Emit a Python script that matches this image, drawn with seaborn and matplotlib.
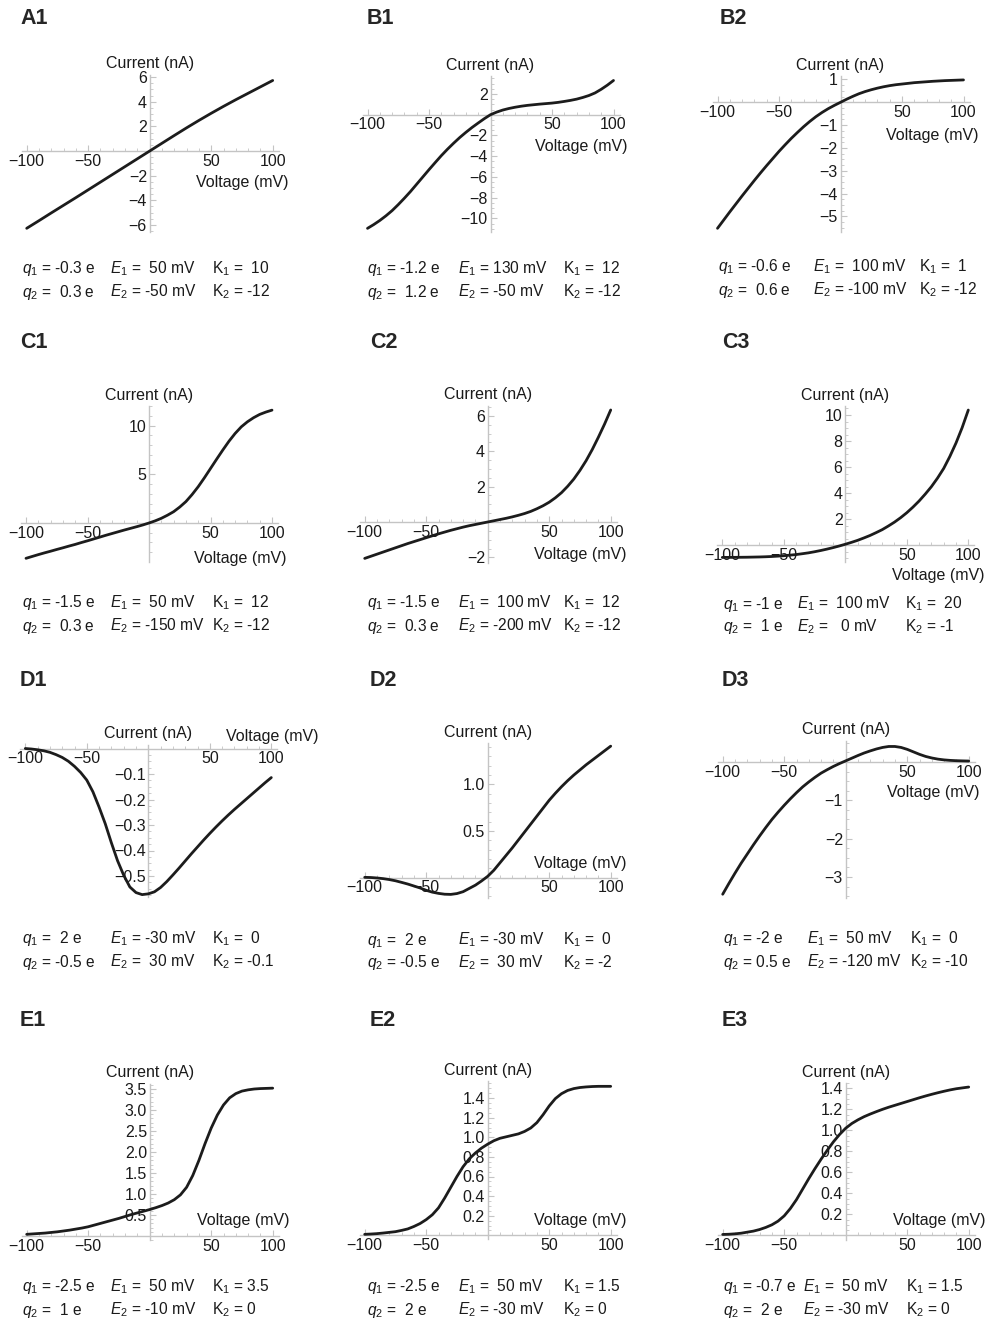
import matplotlib
matplotlib.use('Agg')
import matplotlib.pyplot as plt
import seaborn as sns
from matplotlib.ticker import FixedLocator, FixedFormatter, MultipleLocator

# voltage grids (mV)
volt_10 = list(range(-100, 101, 10))
volt_5 = list(range(-100, 101, 5))

# currents (nA)
a1_current = [-6.27, -5.65, -5.02, -4.40, -3.78, -3.15, -2.52, -1.89, -1.26, -0.63, 0.0,
              0.63, 1.26, 1.88, 2.48, 3.06, 3.62, 4.16, 4.68, 5.20, 5.72]
b1_current = [-10.96, -10.6, -10.2, -9.75, -9.25, -8.67, -8.05, -7.4, -6.7, -6.0,
              -5.3, -4.62, -3.95, -3.33, -2.75, -2.2, -1.7, -1.23, -0.8, -0.38,
              0.0, 0.25, 0.45, 0.6, 0.72, 0.82, 0.9, 0.96, 1.02, 1.07,
              1.12, 1.19, 1.28, 1.38, 1.5, 1.66, 1.85, 2.1, 2.45, 2.85, 3.3]
b2_current = [-5.52, -5.16, -4.8, -4.45, -4.1, -3.76, -3.42, -3.09, -2.77, -2.46,
              -2.15, -1.86, -1.58, -1.32, -1.07, -0.84, -0.63, -0.445, -0.28, -0.135,
              0.0, 0.135, 0.26, 0.375, 0.47, 0.55, 0.62, 0.68, 0.73, 0.77,
              0.8, 0.83, 0.86, 0.88, 0.9, 0.92, 0.935, 0.95, 0.96, 0.97, 0.98]
c1_current = [-3.63, -3.44, -3.25, -3.07, -2.9, -2.72, -2.55, -2.37, -2.2, -2.01,
              -1.83, -1.64, -1.45, -1.26, -1.08, -0.9, -0.72, -0.55, -0.38, -0.2,
              0.0, 0.22, 0.48, 0.8, 1.16, 1.64, 2.2, 2.92, 3.73, 4.64,
              5.6, 6.56, 7.5, 8.4, 9.2, 9.88, 10.4, 10.82, 11.16, 11.4, 11.6]
c2_current = [-2.06, -1.94, -1.82, -1.7, -1.58, -1.46, -1.34, -1.22, -1.11, -1.0,
              -0.89, -0.78, -0.67, -0.57, -0.47, -0.38, -0.29, -0.21, -0.14, -0.07,
              0.0, 0.07, 0.14, 0.21, 0.29, 0.38, 0.48, 0.6, 0.75, 0.92,
              1.12, 1.37, 1.66, 2.02, 2.43, 2.92, 3.47, 4.1, 4.8, 5.54, 6.34]
c3_current = [-0.93, -0.928, -0.925, -0.92, -0.915, -0.905, -0.895, -0.88, -0.86, -0.832,
              -0.8, -0.757, -0.71, -0.647, -0.58, -0.495, -0.4, -0.295, -0.18, -0.055,
              0.08, 0.225, 0.38, 0.56, 0.75, 0.97, 1.2, 1.48, 1.78, 2.12,
              2.5, 2.93, 3.4, 3.93, 4.5, 5.16, 5.9, 6.82, 7.85, 9.03, 10.38]
d1_current = [0.0, -0.002, -0.005, -0.009, -0.015, -0.024, -0.035, -0.05, -0.07, -0.094,
              -0.124, -0.17, -0.23, -0.295, -0.37, -0.44, -0.497, -0.543, -0.565, -0.573,
              -0.57, -0.562, -0.545, -0.522, -0.496, -0.469, -0.441, -0.413, -0.386, -0.359,
              -0.333, -0.308, -0.284, -0.261, -0.239, -0.218, -0.197, -0.176, -0.155, -0.134, -0.114]
d2_current = [0.004, 0.002, -0.003, -0.01, -0.02, -0.033, -0.05, -0.068, -0.089, -0.11,
              -0.135, -0.155, -0.168, -0.177, -0.179, -0.17, -0.15, -0.115, -0.08, -0.035,
              0.015, 0.08, 0.16, 0.24, 0.32, 0.405, 0.49, 0.575, 0.66, 0.745,
              0.83, 0.905, 0.975, 1.04, 1.10, 1.155, 1.21, 1.26, 1.31, 1.36, 1.41]
d3_current = [-3.45, -3.17, -2.90, -2.64, -2.40, -2.16, -1.93, -1.71, -1.50, -1.31,
              -1.13, -0.96, -0.80, -0.65, -0.52, -0.40, -0.29, -0.20, -0.115, -0.04,
              0.03, 0.10, 0.17, 0.235, 0.29, 0.34, 0.38, 0.405, 0.405, 0.38,
              0.33, 0.265, 0.20, 0.145, 0.105, 0.075, 0.055, 0.042, 0.034, 0.029, 0.025]
e1_current = [0.04, 0.05, 0.06, 0.07, 0.085, 0.10, 0.12, 0.14, 0.165, 0.19,
              0.22, 0.26, 0.30, 0.34, 0.38, 0.42, 0.465, 0.51, 0.55, 0.59,
              0.63, 0.675, 0.725, 0.785, 0.865, 0.98, 1.16, 1.44, 1.80, 2.20,
              2.57, 2.88, 3.12, 3.29, 3.39, 3.45, 3.48, 3.50, 3.51, 3.515, 3.52]
e2_current = [0.01, 0.013, 0.017, 0.023, 0.03, 0.037, 0.05, 0.065, 0.09, 0.12,
              0.16, 0.21, 0.28, 0.38, 0.49, 0.60, 0.70, 0.78, 0.84, 0.89,
              0.93, 0.965, 0.99, 1.005, 1.02, 1.035, 1.06, 1.095, 1.15, 1.23,
              1.32, 1.395, 1.445, 1.478, 1.497, 1.508, 1.514, 1.518, 1.52, 1.52, 1.52]
e3_current = [0.008, 0.01, 0.014, 0.02, 0.03, 0.04, 0.055, 0.075, 0.10, 0.135,
              0.185, 0.255, 0.34, 0.44, 0.54, 0.635, 0.725, 0.81, 0.89, 0.96,
              1.02, 1.065, 1.10, 1.13, 1.155, 1.178, 1.20, 1.22, 1.238, 1.256,
              1.274, 1.292, 1.31, 1.327, 1.343, 1.358, 1.372, 1.385, 1.396, 1.404, 1.412]

# tick values and labels
x_ticks = [-100, -50, 50, 100]
x_ticklabels = ['\u2212100', '\u221250', '50', '100']
a1_yticks = [-6, -4, -2, 2, 4, 6]
a1_ylabels = ['\u22126', '\u22124', '\u22122', '2', '4', '6']
b1_yticks = [-10, -8, -6, -4, -2, 2]
b1_ylabels = ['\u221210', '\u22128', '\u22126', '\u22124', '\u22122', '2']
b2_yticks = [-5, -4, -3, -2, -1, 1]
b2_ylabels = ['\u22125', '\u22124', '\u22123', '\u22122', '\u22121', '1']
c1_yticks = [5, 10]
c1_ylabels = ['5', '10']
c2_yticks = [-2, 2, 4, 6]
c2_ylabels = ['\u22122', '2', '4', '6']
c3_yticks = [2, 4, 6, 8, 10]
c3_ylabels = ['2', '4', '6', '8', '10']
d1_yticks = [-0.5, -0.4, -0.3, -0.2, -0.1]
d1_ylabels = ['\u22120.5', '\u22120.4', '\u22120.3', '\u22120.2', '\u22120.1']
d2_yticks = [0.5, 1.0]
d2_ylabels = ['0.5', '1.0']
d3_yticks = [-3, -2, -1]
d3_ylabels = ['\u22123', '\u22122', '\u22121']
e1_yticks = [0.5, 1.0, 1.5, 2.0, 2.5, 3.0, 3.5]
e1_ylabels = ['0.5', '1.0', '1.5', '2.0', '2.5', '3.0', '3.5']
e2_yticks = [0.2, 0.4, 0.6, 0.8, 1.0, 1.2, 1.4]
e2_ylabels = ['0.2', '0.4', '0.6', '0.8', '1.0', '1.2', '1.4']

# parameter text under each panel (two lines, three columns)
a1_text = [['$q_\\mathrm{1}$ = -0.3 e', '$E_\\mathrm{1}$ =  50 mV', 'K$_\\mathrm{1}$ =  10'],
           ['$q_\\mathrm{2}$ =  0.3 e', '$E_\\mathrm{2}$ = -50 mV', 'K$_\\mathrm{2}$ = -12']]
b1_text = [['$q_\\mathrm{1}$ = -1.2 e', '$E_\\mathrm{1}$ = 130 mV', 'K$_\\mathrm{1}$ =  12'],
           ['$q_\\mathrm{2}$ =  1.2 e', '$E_\\mathrm{2}$ = -50 mV', 'K$_\\mathrm{2}$ = -12']]
b2_text = [['$q_\\mathrm{1}$ = -0.6 e', '$E_\\mathrm{1}$ =  100 mV', 'K$_\\mathrm{1}$ =  1'],
           ['$q_\\mathrm{2}$ =  0.6 e', '$E_\\mathrm{2}$ = -100 mV', 'K$_\\mathrm{2}$ = -12']]
c1_text = [['$q_\\mathrm{1}$ = -1.5 e', '$E_\\mathrm{1}$ =  50 mV', 'K$_\\mathrm{1}$ =  12'],
           ['$q_\\mathrm{2}$ =  0.3 e', '$E_\\mathrm{2}$ = -150 mV', 'K$_\\mathrm{2}$ = -12']]
c2_text = [['$q_\\mathrm{1}$ = -1.5 e', '$E_\\mathrm{1}$ =  100 mV', 'K$_\\mathrm{1}$ =  12'],
           ['$q_\\mathrm{2}$ =  0.3 e', '$E_\\mathrm{2}$ = -200 mV', 'K$_\\mathrm{2}$ = -12']]
c3_text = [['$q_\\mathrm{1}$ = -1 e', '$E_\\mathrm{1}$ =  100 mV', 'K$_\\mathrm{1}$ =  20'],
           ['$q_\\mathrm{2}$ =  1 e', '$E_\\mathrm{2}$ =   0 mV', 'K$_\\mathrm{2}$ = -1']]
d1_text = [['$q_\\mathrm{1}$ =  2 e', '$E_\\mathrm{1}$ = -30 mV', 'K$_\\mathrm{1}$ =  0'],
           ['$q_\\mathrm{2}$ = -0.5 e', '$E_\\mathrm{2}$ =  30 mV', 'K$_\\mathrm{2}$ = -0.1']]
d2_text = [['$q_\\mathrm{1}$ =  2 e', '$E_\\mathrm{1}$ = -30 mV', 'K$_\\mathrm{1}$ =  0'],
           ['$q_\\mathrm{2}$ = -0.5 e', '$E_\\mathrm{2}$ =  30 mV', 'K$_\\mathrm{2}$ = -2']]
d3_text = [['$q_\\mathrm{1}$ = -2 e', '$E_\\mathrm{1}$ =  50 mV', 'K$_\\mathrm{1}$ =  0'],
           ['$q_\\mathrm{2}$ = 0.5 e', '$E_\\mathrm{2}$ = -120 mV', 'K$_\\mathrm{2}$ = -10']]
e1_text = [['$q_\\mathrm{1}$ = -2.5 e', '$E_\\mathrm{1}$ =  50 mV', 'K$_\\mathrm{1}$ = 3.5'],
           ['$q_\\mathrm{2}$ =  1 e', '$E_\\mathrm{2}$ = -10 mV', 'K$_\\mathrm{2}$ = 0']]
e2_text = [['$q_\\mathrm{1}$ = -2.5 e', '$E_\\mathrm{1}$ =  50 mV', 'K$_\\mathrm{1}$ = 1.5'],
           ['$q_\\mathrm{2}$ =  2 e', '$E_\\mathrm{2}$ = -30 mV', 'K$_\\mathrm{2}$ = 0']]
e3_text = [['$q_\\mathrm{1}$ = -0.7 e', '$E_\\mathrm{1}$ =  50 mV', 'K$_\\mathrm{1}$ = 1.5'],
           ['$q_\\mathrm{2}$ =  2 e', '$E_\\mathrm{2}$ = -30 mV', 'K$_\\mathrm{2}$ = 0']]

sns.set_theme(style='white')
plt.rcParams['font.family'] = ['Liberation Sans', 'DejaVu Sans']
plt.rcParams['mathtext.fontset'] = 'custom'
plt.rcParams['mathtext.rm'] = 'Liberation Sans'
plt.rcParams['mathtext.it'] = 'Liberation Sans:italic'
plt.rcParams['mathtext.bf'] = 'Liberation Sans:bold'

W, H = 985, 1322
SX = 1.23            # pixels per mV
XLIM = (-104, 105)
AXIS_COLOR = '#c4c4c4'
FS = 11.5
TFS = 11.2

# layout: origin pixel, pixels per nA, y range, label positions
panels = [
    dict(name='A1', v=volt_10, i=a1_current, x0=149.7, y0=151, sy=12.33, ylim=(-6.6, 6.2),
         yt=a1_yticks, yl=a1_ylabels, ym=0.5, vlab=(75, -31), lab=(20, 18),
         tx=(21.7, 110, 211.7), ty=(269, 292), txt=a1_text),
    dict(name='B1', v=volt_5, i=b1_current, x0=490.5, y0=114.7, sy=10.37, ylim=(-11.28, 3.73),
         yt=b1_yticks, yl=b1_ylabels, ym=0.5, vlab=(74, -32), lab=(367, 18),
         tx=(366.7, 458.3, 563.3), ty=(269, 292), txt=b1_text),
    dict(name='B2', v=volt_5, i=b2_current, x0=840.5, y0=102.3, sy=22.83, ylim=(-5.67, 1.15),
         yt=b2_yticks, yl=b2_ylabels, ym=0.25, vlab=(75, -33), lab=(720, 18),
         tx=(718.3, 813.3, 919), ty=(267, 290), txt=b2_text),
    dict(name='C1', v=volt_5, i=c1_current, x0=149, y0=523, sy=9.73, ylim=(-3.98, 12.0),
         yt=c1_yticks, yl=c1_ylabels, ym=1, vlab=(74, -35), lab=(20, 343),
         tx=(21.7, 110, 211.7), ty=(603, 626), txt=c1_text),
    dict(name='C2', v=volt_5, i=c2_current, x0=487.7, y0=522, sy=17.67, ylim=(-2.32, 6.57),
         yt=c2_yticks, yl=c2_ylabels, ym=0.5, vlab=(75.5, -32), lab=(370, 343),
         tx=(366.7, 458.3, 563.3), ty=(603, 626), txt=c2_text),
    dict(name='C3', v=volt_5, i=c3_current, x0=845.3, y0=545.3, sy=13.03, ylim=(-1.26, 10.69),
         yt=c3_yticks, yl=c3_ylabels, ym=0.5, vlab=(75.5, -30), lab=(722, 343),
         tx=(723.3, 796.7, 905), ty=(604, 627), txt=c3_text),
    dict(name='D1', v=volt_5, i=d1_current, x0=148.3, y0=748.5, sy=255, ylim=(-0.581, 0.014),
         yt=d1_yticks, yl=d1_ylabels, ym=0.025, vlab=(100.5, 12), lab=(20, 680),
         tx=(21.7, 110, 211.7), ty=(939, 962), txt=d1_text),
    dict(name='D2', v=volt_5, i=d2_current, x0=487.7, y0=877.7, sy=93.3, ylim=(-0.22, 1.44),
         yt=d2_yticks, yl=d2_ylabels, ym=0.1, vlab=(75.5, 14), lab=(370, 680),
         tx=(366.7, 458.3, 563.3), ty=(940, 963), txt=d2_text),
    dict(name='D3', v=volt_5, i=d3_current, x0=845.7, y0=762, sy=38.33, ylim=(-3.56, 0.55),
         yt=d3_yticks, yl=d3_ylabels, ym=0.25, vlab=(71, -31), lab=(722, 680),
         tx=(723.3, 806.7, 910), ty=(939, 962), txt=d3_text),
    dict(name='E1', v=volt_5, i=e1_current, x0=149.7, y0=1236, sy=42, ylim=(-0.1, 3.63),
         yt=e1_yticks, yl=e1_ylabels, ym=0.1, vlab=(76, 15), lab=(20, 1020),
         tx=(21.7, 110, 211.7), ty=(1287, 1310), txt=e1_text),
    dict(name='E2', v=volt_5, i=e2_current, x0=487.7, y0=1235.3, sy=98, ylim=(-0.04, 1.57),
         yt=e2_yticks, yl=e2_ylabels, ym=0.05, vlab=(75, 15), lab=(370, 1020),
         tx=(366.7, 458.3, 563.3), ty=(1287, 1310), txt=e2_text),
    dict(name='E3', v=volt_5, i=e3_current, x0=845.7, y0=1235.3, sy=105, ylim=(-0.045, 1.45),
         yt=e2_yticks, yl=e2_ylabels, ym=0.05, vlab=(76, 15), lab=(722, 1020),
         tx=(723.3, 803, 906), ty=(1287, 1310), txt=e3_text),
]

fig = plt.figure(figsize=(W / 100, H / 100), dpi=100)
fig.patch.set_facecolor('white')

for p in panels:
    left = p['x0'] + XLIM[0] * SX
    right = p['x0'] + XLIM[1] * SX
    top = p['y0'] - p['ylim'][1] * p['sy']
    bottom = p['y0'] - p['ylim'][0] * p['sy']
    ax = fig.add_axes([left / W, 1 - bottom / H, (right - left) / W, (bottom - top) / H])
    ax.set_facecolor('none')

    sns.lineplot(x=p['v'], y=p['i'], ax=ax, color='#1c1c1c', linewidth=2.0, zorder=3,
                 solid_joinstyle='round')

    ax.set_xlim(*XLIM)
    ax.set_ylim(*p['ylim'])
    for s in ['top', 'right']:
        ax.spines[s].set_visible(False)
    for s in ['left', 'bottom']:
        ax.spines[s].set_position(('data', 0))
        ax.spines[s].set_color(AXIS_COLOR)
        ax.spines[s].set_linewidth(1.0)
        ax.spines[s].set_zorder(1)

    ax.xaxis.set_major_locator(FixedLocator(x_ticks))
    ax.xaxis.set_major_formatter(FixedFormatter(x_ticklabels))
    ax.xaxis.set_minor_locator(MultipleLocator(10))
    ax.yaxis.set_major_locator(FixedLocator(p['yt']))
    ax.yaxis.set_major_formatter(FixedFormatter(p['yl']))
    ax.yaxis.set_minor_locator(MultipleLocator(p['ym']))
    ax.tick_params(which='major', direction='in', length=4, width=0.8, color=AXIS_COLOR,
                   labelsize=FS, labelcolor='#1a1a1a', pad=2)
    ax.tick_params(which='minor', direction='in', length=2, width=0.6, color=AXIS_COLOR)
    ax.tick_params(axis='x', bottom=True, which='both')
    ax.tick_params(axis='y', left=True, which='both')

    ax.annotate('Current (nA)', xy=(0, p['ylim'][1]), xycoords='data', xytext=(0, 11),
                textcoords='offset pixels', ha='center', va='center', fontsize=FS,
                color='#1a1a1a', annotation_clip=False)
    ax.annotate('Voltage (mV)', xy=(p['vlab'][0], 0), xycoords='data',
                xytext=(0, p['vlab'][1]), textcoords='offset pixels', ha='center',
                va='center', fontsize=FS, color='#1a1a1a', annotation_clip=False)

    fig.text(p['lab'][0] / W, 1 - p['lab'][1] / H, p['name'], fontsize=15.5,
             fontweight='bold', ha='left', va='center')
    for row, line in enumerate(p['txt']):
        for col, s in enumerate(line):
            fig.text(p['tx'][col] / W, 1 - p['ty'][row] / H, s, fontsize=TFS,
                     ha='left', va='center', color='#1a1a1a')

fig.savefig('out.png', dpi=100, facecolor='white')
